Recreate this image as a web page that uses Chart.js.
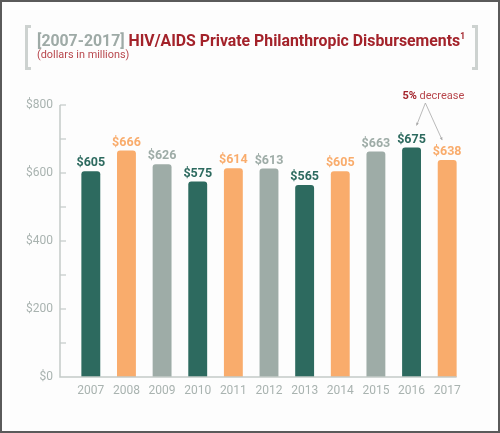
<!DOCTYPE html>
<html>
<head>
<meta charset="utf-8">
<script src="https://cdn.jsdelivr.net/npm/chart.js@4.4.0/dist/chart.umd.min.js"></script>
<style>
html,body{margin:0;padding:0;background:#fff;}
#wrap{position:relative;width:500px;height:433px;box-sizing:border-box;border:2px solid #5a5a5a;background:#fdfdfd;overflow:hidden;}
#c{position:absolute;left:-2px;top:-2px;}
.brk{position:absolute;top:23px;width:6px;height:45px;border:3px solid #cdd2d0;box-sizing:border-box;}
#bl{left:23px;border-right:none;}
#br{left:470px;border-left:none;}
#title{position:absolute;left:35px;top:28px;font-family:"Roboto",sans-serif;font-weight:bold;font-size:17px;color:#a3222a;white-space:nowrap;transform-origin:0 0;}
#title .g{color:#9eaaa6;}
#title sup{font-size:9px;vertical-align:7px;}
#sub{position:absolute;left:35px;top:46px;font-family:"Roboto",sans-serif;font-size:11px;color:#b8474d;white-space:nowrap;transform-origin:0 0;}
</style>
</head>
<body>
<div id="wrap">
<canvas id="c" width="500" height="433"></canvas>
<div class="brk" id="bl"></div>
<div class="brk" id="br"></div>
<div id="title"><span class="g">[2007-2017]</span> HIV/AIDS Private Philanthropic Disbursements<sup>1</sup></div>
<div id="sub">(dollars in millions)</div>
</div>
<script>
const years = ["2007","2008","2009","2010","2011","2012","2013","2014","2015","2016","2017"];
const values = [605,666,626,575,614,613,565,605,663,675,638];
const barColors = ["#2d6a5f","#f9ac6c","#9eaca7","#2d6a5f","#f9ac6c","#9eaca7","#2d6a5f","#f9ac6c","#9eaca7","#2d6a5f","#f9ac6c"];
const yTickValues = [0,200,400,600,800];
const annotationBold = "5%";
const annotationText = " decrease";

function fitWidth(id, w){
  const el = document.getElementById(id);
  const s = w / el.offsetWidth;
  el.style.transform = 'scaleX(' + s + ')';
}
fitWidth('title', 428);
fitWidth('sub', 92);

const FONT = '"Roboto",sans-serif';
const AXIS_GRAY = "#c3cac8";
const LABEL_GRAY = "#a9b3b0";

const decor = {
  id:'decor',
  afterDatasetsDraw(chart){
    const ctx = chart.ctx;
    const ys = chart.scales.y;
    const meta = chart.getDatasetMeta(0);
    const axisX = ys.right - 13;
    const y0 = ys.getPixelForValue(0);
    const yTop = ys.getPixelForValue(800);
    ctx.save();
    ctx.strokeStyle = AXIS_GRAY; ctx.lineWidth = 1.5;
    ctx.beginPath();
    ctx.moveTo(axisX, yTop); ctx.lineTo(axisX, y0);
    const last = meta.data[meta.data.length-1];
    ctx.lineTo(last.x + last.width/2, y0);
    ctx.stroke();
    ctx.lineWidth = 1.2;
    for(let v=100; v<=800; v+=100){
      const py = ys.getPixelForValue(v);
      ctx.beginPath(); ctx.moveTo(axisX, py); ctx.lineTo(axisX+6, py); ctx.stroke();
    }
    ctx.font = 'bold 12.5px ' + FONT;
    ctx.textAlign = 'center'; ctx.textBaseline = 'alphabetic';
    meta.data.forEach((b,i)=>{
      ctx.fillStyle = barColors[i];
      ctx.fillText('$' + values[i], b.x, b.y - 5);
    });
    const b9 = meta.data[9], b10 = meta.data[10];
    const ax = (b9.x + b10.x)/2 - 4, ay = 100;
    ctx.font = 'bold 11px ' + FONT;
    const w1 = ctx.measureText(annotationBold).width;
    ctx.font = '11px ' + FONT;
    const w2 = ctx.measureText(annotationText).width;
    const tx = ax + 8 - (w1+w2)/2;
    ctx.textAlign = 'left'; ctx.textBaseline='alphabetic';
    ctx.font = 'bold 11px ' + FONT; ctx.fillStyle = '#a3222a';
    ctx.fillText(annotationBold, tx, 99);
    ctx.font = '11px ' + FONT; ctx.fillStyle = '#b8474d';
    ctx.fillText(annotationText, tx + w1, 99);
    ctx.strokeStyle = '#a8a8a8'; ctx.lineWidth = 0.8;
    const e1 = {x:b9.x+5, y:b9.y-22};
    const e2 = {x:b10.x-5, y:b10.y-20};
    ctx.beginPath();
    ctx.moveTo(e1.x, e1.y); ctx.lineTo(ax, ay+3); ctx.lineTo(e2.x, e2.y);
    ctx.stroke();
    ctx.fillStyle = '#a8a8a8';
    [e1,e2].forEach(e=>{
      const ang = Math.atan2(e.y-(ay+3), e.x-ax);
      ctx.beginPath();
      ctx.moveTo(e.x, e.y);
      ctx.lineTo(e.x - 3*Math.cos(ang-0.5), e.y - 3*Math.sin(ang-0.5));
      ctx.lineTo(e.x - 3*Math.cos(ang+0.5), e.y - 3*Math.sin(ang+0.5));
      ctx.closePath(); ctx.fill();
    });
    ctx.restore();
  }
};

new Chart(document.getElementById('c'), {
  type:'bar',
  data:{
    labels: years,
    datasets:[{
      data: values,
      backgroundColor: barColors,
      borderRadius: {topLeft:3, topRight:3, bottomLeft:0, bottomRight:0},
      borderSkipped: 'bottom',
      categoryPercentage: 1,
      barPercentage: 0.53
    }]
  },
  options:{
    responsive:false,
    animation:false,
    devicePixelRatio: 1,
    layout:{padding:{top:105, right:35, left:0, bottom:0}},
    plugins:{legend:{display:false}, tooltip:{enabled:false}},
    scales:{
      x:{
        grid:{display:false, drawTicks:false},
        border:{display:false},
        ticks:{color:LABEL_GRAY, font:{family:FONT, size:12}, padding:7, maxRotation:0},
        afterFit(s){ s.height = 56; }
      },
      y:{
        min:0, max:800,
        afterBuildTicks(s){ s.ticks = yTickValues.map(v=>({value:v})); },
        grid:{display:false, drawTicks:false},
        border:{display:false},
        ticks:{color:LABEL_GRAY, font:{family:FONT, size:12}, padding:20, callback:v=>'$'+v},
        afterFit(s){ s.width = 73; }
      }
    }
  },
  plugins:[decor]
});
</script>
</body>
</html>
